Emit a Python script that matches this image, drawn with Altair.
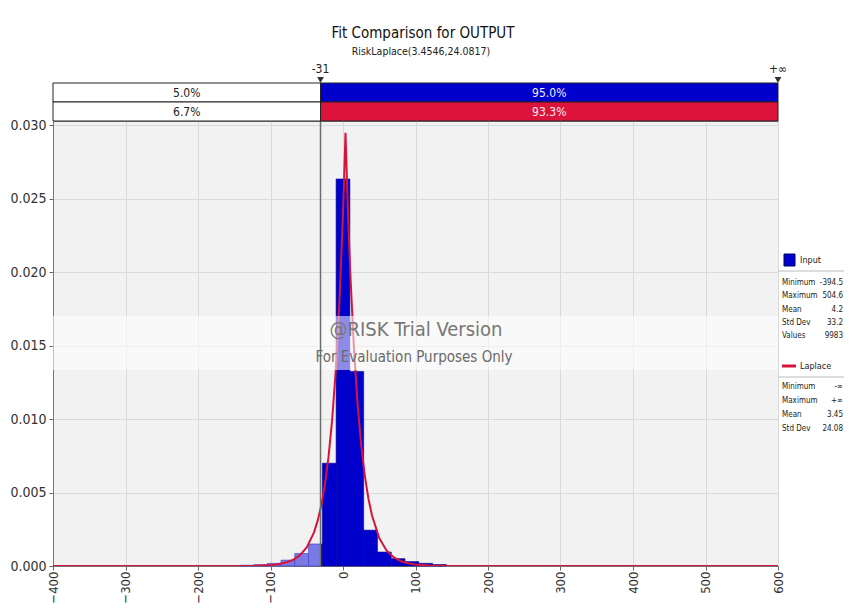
import altair as alt
import pandas as pd

# ---------------- data ----------------
# histogram of the input (probability density), bin edges and heights
bin_left = [-142.5, -123.5, -104.5, -85.5, -66.5, -47.5, -28.5, -9.5, 9.5, 28.5, 47.5, 66.5, 85.5, 104.5, 123.5]
bin_right = [-123.5, -104.5, -85.5, -66.5, -47.5, -28.5, -9.5, 9.5, 28.5, 47.5, 66.5, 85.5, 104.5, 123.5, 142.5]
density = [0.00005, 0.00009, 0.00018, 0.00040, 0.00085, 0.00150, 0.00700, 0.02635, 0.01325,
           0.00244, 0.00095, 0.00050, 0.00030, 0.00018, 0.00010]

# fitted Laplace curve
curve_x = [-400, -300, -200, -150, -120, -100, -90, -80, -70, -60, -50, -40, -35, -30, -25, -20,
           -15, -10, -5, 0, 3.45, 7, 10, 15, 20, 25, 30, 35, 40, 50, 60, 70, 80, 90, 100, 120,
           150, 200, 300, 400, 500, 600]
curve_y = [0.0, 0.0, 0.0, 0.0000036, 0.0000209, 0.0000675, 0.000121, 0.000218, 0.000393, 0.000707,
           0.001272, 0.002289, 0.003071, 0.004119, 0.005523, 0.007408, 0.009932, 0.013327, 0.017874,
           0.023973, 0.02950, 0.023844, 0.019985, 0.014903, 0.011111, 0.008285, 0.006175, 0.004604,
           0.003433, 0.001908, 0.001061, 0.000589, 0.000327, 0.000182, 0.000101, 0.0000313,
           0.0000054, 0.0, 0.0, 0.0, 0.0, 0.0]

# delimiter and top probability bars
x_min, x_max = -400, 600
delim = -31
delim_labels = ["-31", "+\u221e"]
input_pct = ["5.0%", "95.0%"]
fit_pct = ["6.7%", "93.3%"]

title_text = "Fit Comparison for OUTPUT"
subtitle_text = "RiskLaplace(3.4546,24.0817)"

input_stats_lbl = ["Minimum", "Maximum", "Mean", "Std Dev", "Values"]
input_stats_val = ["-394.5", "504.6", "4.2", "33.2", "9983"]
fit_stats_lbl = ["Minimum", "Maximum", "Mean", "Std Dev"]
fit_stats_val = ["-\u221e", "+\u221e", "3.45", "24.08"]

x_ticks = [-400, -300, -200, -100, 0, 100, 200, 300, 400, 500, 600]
y_ticks = [0.0, 0.005, 0.010, 0.015, 0.020, 0.025, 0.030]

# ---------------- styling ----------------
FONT = "DejaVu Sans Condensed, DejaVu Sans, sans-serif"
BLUE = "#0000CD"
HATCH = "#7A7AE4"
RED = "#D5143C"
W, H = 725, 445
YMAX = 0.0303

xs = alt.Scale(domain=[x_min, x_max], nice=False, zero=False)
ys = alt.Scale(domain=[0, YMAX], nice=False, zero=True)

# split histogram at the delimiter
rows = []
for l, r, d in zip(bin_left, bin_right, density):
    if r <= delim:
        rows.append({"l": l, "r": r, "d": d, "k": "out"})
    elif l < delim < r:
        rows.append({"l": l, "r": delim, "d": d, "k": "out"})
        rows.append({"l": delim, "r": r, "d": d, "k": "in"})
    else:
        rows.append({"l": l, "r": r, "d": d, "k": "in"})
hist = pd.DataFrame(rows)

bars = alt.Chart(hist).mark_rect(strokeWidth=0.6).encode(
    x=alt.X("l:Q", scale=xs, title=None,
            axis=alt.Axis(values=x_ticks, labelAngle=270, labelAlign="right", labelBaseline="middle",
                          grid=True, gridColor="#D9D9D9", tickSize=4, tickColor="#666",
                          labelPadding=1, labelFontSize=13, labelFont=FONT, labelColor="#333",
                          domainColor="#777")),
    x2="r:Q",
    y=alt.Y("d:Q", scale=ys, title=None,
            axis=alt.Axis(values=y_ticks, format=".3f", grid=True, gridColor="#D9D9D9",
                          tickSize=4, tickColor="#666", labelPadding=3, labelFontSize=14,
                          labelFont=FONT, labelColor="#333", domainColor="#777")),
    y2=alt.datum(0),
    fill=alt.Fill("k:N", scale=alt.Scale(domain=["in", "out"], range=[BLUE, HATCH]), legend=None),
    stroke=alt.Stroke("k:N", scale=alt.Scale(domain=["in", "out"], range=["#00008B", "#3A3AD0"]), legend=None),
)

curve = alt.Chart(pd.DataFrame({"cx": curve_x, "cy": curve_y})).mark_line(
    color=RED, strokeWidth=2, clip=True
).encode(
    x=alt.X("cx:Q", scale=xs, title=None),
    y=alt.Y("cy:Q", scale=ys, title=None),
)

one = pd.DataFrame({"a": [0]})

band = alt.Chart(one).mark_rect(fill="white", opacity=0.55).encode(
    x=alt.value(0), x2=alt.value(W), y=alt.value(195), y2=alt.value(249)
)
wm1 = alt.Chart(one).mark_text(font=FONT, fontSize=20, color="#777777", align="center", baseline="middle").encode(
    x=alt.value(363), y=alt.value(209), text=alt.value("@RISK Trial Version"))
wm2 = alt.Chart(one).mark_text(font=FONT, fontSize=15, color="#6a6a6a", align="center", baseline="middle").encode(
    x=alt.value(361), y=alt.value(236), text=alt.value("For Evaluation Purposes Only"))

delim_rule = alt.Chart(one).mark_rule(color="#6e6e6e", strokeWidth=1.5).encode(
    x=alt.X(datum=delim, scale=xs), y=alt.value(-38), y2=alt.value(H))

# top probability bars
top1 = pd.DataFrame({"s": [x_min, delim], "e": [delim, x_max], "f": ["white", BLUE],
                     "t": input_pct, "tc": ["#222222", "#EEEEFF"]})
top2 = pd.DataFrame({"s": [x_min, delim], "e": [delim, x_max], "f": ["white", "#DC143C"],
                     "t": fit_pct, "tc": ["#222222", "#FFEEEE"]})

def top_row(df, y0, y1):
    r = alt.Chart(df).mark_rect(stroke="#222222", strokeWidth=1).encode(
        x=alt.X("s:Q", scale=xs, title=None), x2="e:Q",
        y=alt.value(y0), y2=alt.value(y1),
        fill=alt.Fill("f:N", scale=None))
    t = alt.Chart(df).transform_calculate(m="(datum.s + datum.e) / 2").mark_text(
        font=FONT, fontSize=12, baseline="middle", align="center").encode(
        x=alt.X("m:Q", scale=xs, title=None), y=alt.value((y0 + y1) / 2),
        text="t:N", color=alt.Color("tc:N", scale=None))
    return r + t

row1 = top_row(top1, -38, -19)
row2 = top_row(top2, -19, 0)

marks_df = pd.DataFrame({"mx": [delim, x_max], "ml": delim_labels})
tri = alt.Chart(marks_df).mark_point(shape="triangle-down", filled=True, color="#333333", size=45, opacity=1).encode(
    x=alt.X("mx:Q", scale=xs, title=None), y=alt.value(-41))
tri_lbl = alt.Chart(marks_df).mark_text(font=FONT, fontSize=12, color="#222222", baseline="middle").encode(
    x=alt.X("mx:Q", scale=xs, title=None), y=alt.value(-52), text="ml:N")

title = alt.Chart(one).mark_text(font=FONT, fontSize=15, color="#111111", align="center", baseline="middle").encode(
    x=alt.value(370), y=alt.value(-88), text=alt.value(title_text))
subtitle = alt.Chart(one).mark_text(font=FONT, fontSize=10.5, color="#222222", align="center", baseline="middle").encode(
    x=alt.value(368), y=alt.value(-69), text=alt.value(subtitle_text))

# legend / stats panel (pixel positions relative to plot area)
LFS = 8
leg = []
leg.append(alt.Chart(one).mark_rect(fill=BLUE, stroke="#000066").encode(
    x=alt.value(731), x2=alt.value(742), y=alt.value(133), y2=alt.value(145)))
leg.append(alt.Chart(one).mark_text(font=FONT, fontSize=9, align="left", baseline="middle", color="#222").encode(
    x=alt.value(747), y=alt.value(139), text=alt.value("Input")))
leg.append(alt.Chart(one).mark_rule(color="#BBBBBB").encode(
    x=alt.value(W), x2=alt.value(800), y=alt.value(150)))
for i, (lb, v) in enumerate(zip(input_stats_lbl, input_stats_val)):
    yy = 162 + i * 13.3
    leg.append(alt.Chart(one).mark_text(font=FONT, fontSize=LFS, align="left", baseline="middle", color="#222").encode(
        x=alt.value(729), y=alt.value(yy), text=alt.value(lb)))
    leg.append(alt.Chart(one).mark_text(font=FONT, fontSize=LFS, align="right", baseline="middle", color="#222").encode(
        x=alt.value(790), y=alt.value(yy), text=alt.value(v)))
leg.append(alt.Chart(one).mark_rule(color=RED, strokeWidth=3).encode(
    x=alt.value(729), x2=alt.value(743), y=alt.value(245)))
leg.append(alt.Chart(one).mark_text(font=FONT, fontSize=9, align="left", baseline="middle", color="#222").encode(
    x=alt.value(747), y=alt.value(245), text=alt.value("Laplace")))
leg.append(alt.Chart(one).mark_rule(color="#BBBBBB").encode(
    x=alt.value(W), x2=alt.value(800), y=alt.value(256)))
for i, (lb, v) in enumerate(zip(fit_stats_lbl, fit_stats_val)):
    yy = 266 + i * 14
    leg.append(alt.Chart(one).mark_text(font=FONT, fontSize=LFS, align="left", baseline="middle", color="#222").encode(
        x=alt.value(729), y=alt.value(yy), text=alt.value(lb)))
    leg.append(alt.Chart(one).mark_text(font=FONT, fontSize=LFS, align="right", baseline="middle", color="#222").encode(
        x=alt.value(790), y=alt.value(yy), text=alt.value(v)))

chart = alt.layer(
    bars, curve, band, wm1, wm2, delim_rule, row1, row2, tri, tri_lbl, title, subtitle, *leg
).properties(
    width=W, height=H,
    autosize=alt.AutoSizeParams(type="none"),
    padding={"left": 45, "top": 113, "right": 66, "bottom": 38},
    background="white",
).configure_view(
    fill="#F2F2F2", stroke="#8A8A8A", strokeWidth=1
)

chart.save("out.html", embed_options={"renderer": "svg", "actions": False})
